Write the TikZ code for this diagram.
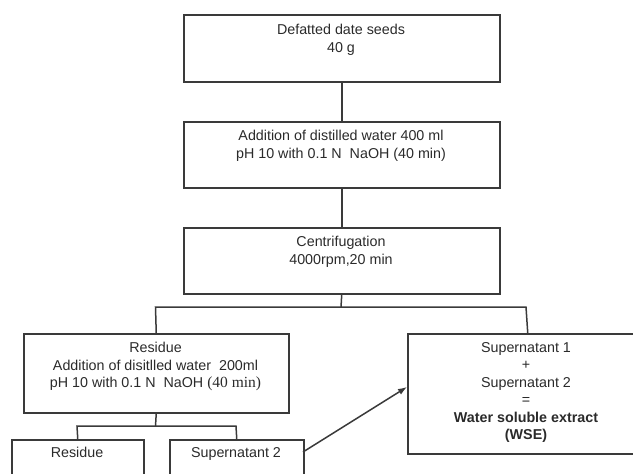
\documentclass[tikz,border=0pt]{standalone}
\usepackage{fontspec}
\setmainfont{Liberation Sans}
\newfontfamily\serifpart{Liberation Serif}
\usetikzlibrary{arrows.meta,calc}
\definecolor{linec}{HTML}{3A3A3A}
\definecolor{textc}{HTML}{2A2A2A}
\tikzset{
  boxr/.style={draw=linec, line width=1.5pt, rectangle, inner sep=0pt, anchor=north west},
  txt/.style={inner sep=0pt, anchor=north, align=center, text=textc, font=\fontsize{14.3}{17.5}\selectfont},
  conn/.style={draw=linec, line width=1.5pt},
  arr/.style={conn, -{Latex[length=9pt,width=6.5pt]}}
}
\begin{document}
\begin{tikzpicture}[x=1pt,y=-1pt]
\useasboundingbox (0,0) rectangle (633,474);
\clip (0,0) rectangle (633,474);
% boxes
\node[boxr, minimum width=316pt, minimum height=67pt] (b1) at (183,14) {};
\node[boxr, minimum width=316pt, minimum height=66pt] (b2) at (183,121) {};
\node[boxr, minimum width=316pt, minimum height=66pt] (b3) at (183,227) {};
\node[boxr, minimum width=265pt, minimum height=79pt] (b4) at (23,333) {};
\node[boxr, minimum width=240pt, minimum height=120pt] (b5) at (407,333) {};
\node[boxr, minimum width=132pt, minimum height=60pt] (b6) at (11,439) {};
\node[boxr, minimum width=134pt, minimum height=60pt] (b7) at (169,439) {};
% texts
\node[txt] (t1) at (341,24) {Defatted date seeds\\40 g};
\node[txt] (t2) at (341,130) {Addition of distilled water 400 ml\\pH 10 with 0.1 N\ \ NaOH (40 min)};
\node[txt] (t3) at (341,236) {Centrifugation\\4000rpm,20 min};
\node[txt] (t4) at (155.5,342) {Residue\\Addition of disitlled water\ \ 200ml\\pH 10 with 0.1 N\ \ NaOH {\serifpart\fontsize{15.5}{17.5}\selectfont(40 min)}};
\node[txt] (t5) at (526,342) {Supernatant 1\\+\\Supernatant 2\\=\\\textbf{Water soluble extract}\\\textbf{(WSE)}};
\node[txt] (t6) at (77,447) {Residue};
\node[txt] (t7) at (236,447) {Supernatant 2};
% connectors
\coordinate (j1) at (341,307);
\coordinate (j1l) at (155.5,307);
\coordinate (j1r) at (526,307);
\coordinate (j2) at (155.5,426);
\coordinate (j2l) at (77,426);
\coordinate (j2r) at (236,426);
\coordinate (s7) at (303,452);
\coordinate (e5) at (407,387);
\draw[conn] (b1.south) -- (b2.north);
\draw[conn] (b2.south) -- (b3.north);
\draw[conn] (b3.south) -- (j1);
\draw[conn] (b4.north) -- (j1l) -- (j1r) -- (b5.north);
\draw[conn] (b4.south) -- (j2);
\draw[conn] (b6.north) -- (j2l) -- (j2r) -- (b7.north);
\draw[arr] (s7) -- (e5);
\end{tikzpicture}
\end{document}
